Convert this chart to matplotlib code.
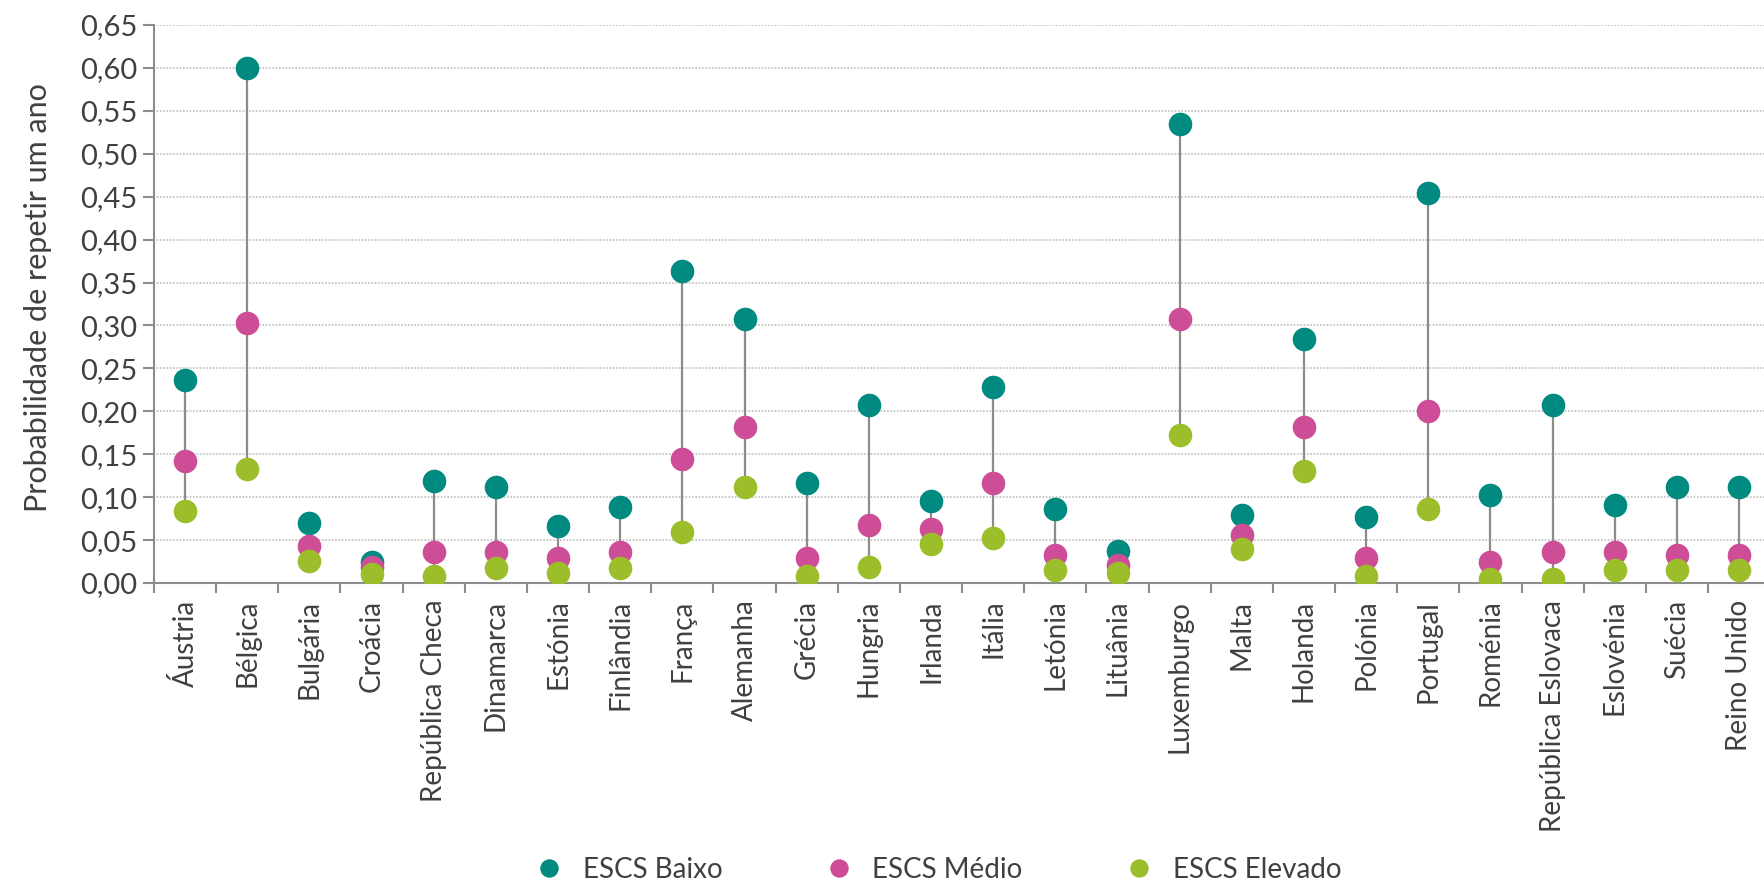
import numpy as np
import matplotlib
matplotlib.use("Agg")
import matplotlib.pyplot as plt
import matplotlib.transforms as mtransforms
from matplotlib.ticker import FuncFormatter

plt.rcParams['font.family'] = ['Lato', 'DejaVu Sans']
plt.rcParams['axes.grid'] = False

paises = ["Áustria", "Bélgica", "Bulgária", "Croácia", "República Checa", "Dinamarca",
          "Estónia", "Finlândia", "França", "Alemanha", "Grécia", "Hungria", "Irlanda",
          "Itália", "Letónia", "Lituânia", "Luxemburgo", "Malta", "Holanda", "Polónia",
          "Portugal", "Roménia", "República Eslovaca", "Eslovénia", "Suécia", "Reino Unido"]

escs_baixo = [0.237, 0.600, 0.070, 0.024, 0.119, 0.112, 0.066, 0.089, 0.363, 0.307,
              0.117, 0.207, 0.096, 0.228, 0.086, 0.037, 0.535, 0.079, 0.284, 0.077,
              0.454, 0.103, 0.207, 0.091, 0.112, 0.112]
escs_medio = [0.142, 0.303, 0.043, 0.019, 0.036, 0.036, 0.029, 0.036, 0.145, 0.182,
              0.029, 0.068, 0.063, 0.117, 0.033, 0.021, 0.307, 0.056, 0.182, 0.029,
              0.200, 0.024, 0.036, 0.036, 0.033, 0.033]
escs_elevado = [0.084, 0.133, 0.026, 0.010, 0.008, 0.017, 0.012, 0.017, 0.059, 0.112,
                0.008, 0.019, 0.045, 0.052, 0.015, 0.012, 0.172, 0.040, 0.131, 0.008,
                0.086, 0.005, 0.005, 0.015, 0.015, 0.015]

cor_baixo = "#008A80"
cor_medio = "#CD4E97"
cor_elevado = "#9DBE2B"
cinza = "#8C8C8C"
texto = "#404040"

fig = plt.figure(figsize=(17.64, 8.86), dpi=100)
ax = fig.add_axes([154 / 1764, 1 - 583 / 886, 1 - 154 / 1764, (583 - 25) / 886])

x = np.arange(len(paises))
todos = np.vstack([escs_baixo, escs_medio, escs_elevado])
ax.vlines(x, todos.min(axis=0), todos.max(axis=0), color=cinza, lw=1.6, zorder=2)

ms = 17
ax.plot(x, escs_baixo, 'o', ms=ms, color=cor_baixo, mec='none', label="ESCS Baixo", zorder=3)
ax.plot(x, escs_medio, 'o', ms=ms, color=cor_medio, mec='none', label="ESCS Médio", zorder=4)
ax.plot(x, escs_elevado, 'o', ms=ms, color=cor_elevado, mec='none', label="ESCS Elevado", zorder=5)

ax.set_ylim(0, 0.65)
ax.set_xlim(-0.5, 25.4)

# grelha horizontal pontilhada (pontos redondos)
yt = np.arange(0.05, 0.651, 0.05)
for yv in yt:
    ax.axhline(yv, color="#C4C4C4", lw=1.4, ls=(0, (0.1, 1.6)),
               dash_capstyle='round', zorder=1)
ax.set_yticks(np.arange(0, 0.651, 0.05))
ax.yaxis.set_major_formatter(FuncFormatter(lambda v, p: f"{v:.2f}".replace(".", ",")))

ax.set_xticks(x)
ax.set_xticklabels(paises, rotation=90, fontsize=20, color=texto)
ax.tick_params(axis='x', length=0, pad=12)
ax.tick_params(axis='y', length=8, width=1.5, color=cinza, labelsize=21, labelcolor=texto, pad=4)

# marcas de separação entre países, por baixo do eixo
trans = mtransforms.blended_transform_factory(ax.transData, ax.transAxes)
limites = np.arange(-0.5, 25.4, 1)
ax.vlines(limites, -0.018, 0, transform=trans, colors=cinza, lw=1.5, clip_on=False)

for lado in ['top', 'right']:
    ax.spines[lado].set_visible(False)
for lado in ['left', 'bottom']:
    ax.spines[lado].set_color(cinza)
    ax.spines[lado].set_linewidth(1.5)

ax.set_ylabel("Probabilidade de repetir um ano", fontsize=22, color=texto)
ax.yaxis.set_label_coords(-0.0635, 0.512)

handles, labels = ax.get_legend_handles_labels()
leg = fig.legend(handles, labels, loc='center', bbox_to_anchor=(0.528, 0.018), ncol=3,
                 frameon=False, fontsize=20, markerscale=0.78, handletextpad=0.2,
                 columnspacing=3.2, labelcolor=texto)

fig.savefig("out.png", dpi=100)
